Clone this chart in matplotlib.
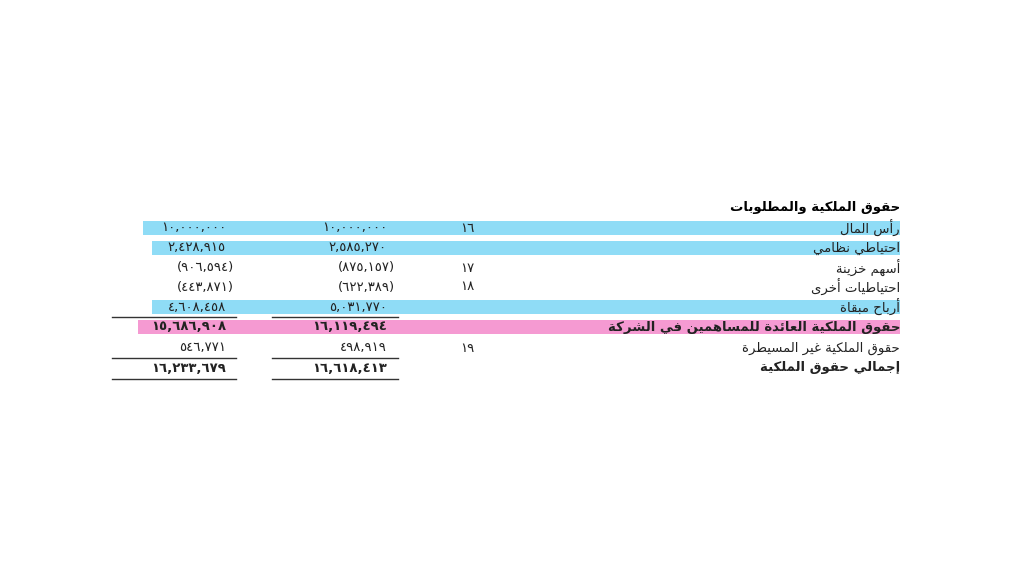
import matplotlib
matplotlib.use("Agg")
import matplotlib.pyplot as plt
from matplotlib.patches import Rectangle

title = "حقوق الملكية والمطلوبات"
labels = ["رأس المال", "احتياطي نظامي", "أسهم خزينة", "احتياطيات أخرى", "أرباح مبقاة",
          "حقوق الملكية العائدة للمساهمين في الشركة", "حقوق الملكية غير المسيطرة", "إجمالي حقوق الملكية"]
notes = [16, None, 17, 18, None, None, 19, None]
col_2022 = [10000000, 2585270, -875157, -622389, 5031770, 16119494, 498919, 16618413]
col_2021 = [10000000, 2428915, -906594, -443871, 4608458, 15686908, 546771, 16233679]
bold_rows = [5, 7]
highlight = {0: "#8fdcf6", 1: "#8fdcf6", 4: "#8fdcf6", 5: "#f59ad2"}

# --- minimal Arabic shaping ---
F = {
 'ء':(0xFE80,), 'آ':(0xFE81,0xFE82), 'أ':(0xFE83,0xFE84), 'ؤ':(0xFE85,0xFE86), 'إ':(0xFE87,0xFE88),
 'ئ':(0xFE89,0xFE8A,0xFE8B,0xFE8C), 'ا':(0xFE8D,0xFE8E), 'ب':(0xFE8F,0xFE90,0xFE91,0xFE92),
 'ة':(0xFE93,0xFE94), 'ت':(0xFE95,0xFE96,0xFE97,0xFE98), 'ث':(0xFE99,0xFE9A,0xFE9B,0xFE9C),
 'ج':(0xFE9D,0xFE9E,0xFE9F,0xFEA0), 'ح':(0xFEA1,0xFEA2,0xFEA3,0xFEA4), 'خ':(0xFEA5,0xFEA6,0xFEA7,0xFEA8),
 'د':(0xFEA9,0xFEAA), 'ذ':(0xFEAB,0xFEAC), 'ر':(0xFEAD,0xFEAE), 'ز':(0xFEAF,0xFEB0),
 'س':(0xFEB1,0xFEB2,0xFEB3,0xFEB4), 'ش':(0xFEB5,0xFEB6,0xFEB7,0xFEB8), 'ص':(0xFEB9,0xFEBA,0xFEBB,0xFEBC),
 'ض':(0xFEBD,0xFEBE,0xFEBF,0xFEC0), 'ط':(0xFEC1,0xFEC2,0xFEC3,0xFEC4), 'ظ':(0xFEC5,0xFEC6,0xFEC7,0xFEC8),
 'ع':(0xFEC9,0xFECA,0xFECB,0xFECC), 'غ':(0xFECD,0xFECE,0xFECF,0xFED0), 'ف':(0xFED1,0xFED2,0xFED3,0xFED4),
 'ق':(0xFED5,0xFED6,0xFED7,0xFED8), 'ك':(0xFED9,0xFEDA,0xFEDB,0xFEDC), 'ل':(0xFEDD,0xFEDE,0xFEDF,0xFEE0),
 'م':(0xFEE1,0xFEE2,0xFEE3,0xFEE4), 'ن':(0xFEE5,0xFEE6,0xFEE7,0xFEE8), 'ه':(0xFEE9,0xFEEA,0xFEEB,0xFEEC),
 'و':(0xFEED,0xFEEE), 'ى':(0xFEEF,0xFEF0), 'ي':(0xFEF1,0xFEF2,0xFEF3,0xFEF4),
}
LA = {'ا':(0xFEFB,0xFEFC), 'أ':(0xFEF7,0xFEF8), 'إ':(0xFEF9,0xFEFA), 'آ':(0xFEF5,0xFEF6)}

def shape(s):
    chars = list(s)
    # lam-alef ligatures
    merged = []
    i = 0
    while i < len(chars):
        if chars[i] == 'ل' and i + 1 < len(chars) and chars[i+1] in LA:
            merged.append(('LA', chars[i+1])); i += 2
        else:
            merged.append(chars[i]); i += 1
    def dual(c):
        return c != 'LA' and not isinstance(c, tuple) and c in F and len(F[c]) == 4
    def arab(c):
        return isinstance(c, tuple) or c in F
    out = []
    for k, c in enumerate(merged):
        prev = merged[k-1] if k > 0 else None
        nxt = merged[k+1] if k + 1 < len(merged) else None
        pj = prev is not None and dual(prev)
        if isinstance(c, tuple):
            out.append(chr(LA[c[1]][1 if pj else 0])); continue
        if c not in F:
            out.append(c); continue
        forms = F[c]
        nj = len(forms) == 4 and nxt is not None and arab(nxt)
        if len(forms) == 1: g = forms[0]
        elif pj and nj: g = forms[3]
        elif pj: g = forms[1]
        elif nj: g = forms[2]
        else: g = forms[0]
        out.append(chr(g))
    return ''.join(reversed(out))

AD = str.maketrans("0123456789", "٠١٢٣٤٥٦٧٨٩")
def fmt(v):
    s = f"{abs(v):,}".translate(AD)
    return f"({s})" if v < 0 else s

fig = plt.figure(figsize=(10.24, 5.76), dpi=100)
ax = fig.add_axes([0, 0, 1, 1])
ax.set_xlim(0, 1024); ax.set_ylim(576, 0); ax.axis("off")
fam = ["DejaVu Sans"]
fs = 9.5

ax.text(900, 207, shape(title), ha="right", va="center", fontsize=fs, fontweight="bold", family=fam)
ys = [228, 248, 268, 287, 307, 327, 348, 368]
bands = {0: 143, 1: 152, 4: 152, 5: 138}
for i, lab in enumerate(labels):
    y = ys[i]
    if i in highlight:
        ax.add_patch(Rectangle((bands[i], y - 7), 900 - bands[i], 14, color=highlight[i], lw=0, zorder=0))
    w = "bold" if i in bold_rows else "normal"
    ax.text(900, y, shape(lab), ha="right", va="center", fontsize=fs, fontweight=w, family=fam, color="#222")
    if notes[i] is not None:
        ax.text(467, y, str(notes[i]).translate(AD), ha="center", va="center", fontsize=fs, family=fam, color="#222")
    for xr, v in ((387, col_2022[i]), (226, col_2021[i])):
        ax.text(xr + (8 if v < 0 else 0), y, fmt(v), ha="right", va="center", fontsize=fs,
                fontweight=w, family=fam, color="#222")

for yl in (317, 358, 379):
    ax.plot([112, 236], [yl, yl], color="#333", lw=1)
    ax.plot([272, 398], [yl, yl], color="#333", lw=1)

fig.savefig("out.png", dpi=100, facecolor="white")
